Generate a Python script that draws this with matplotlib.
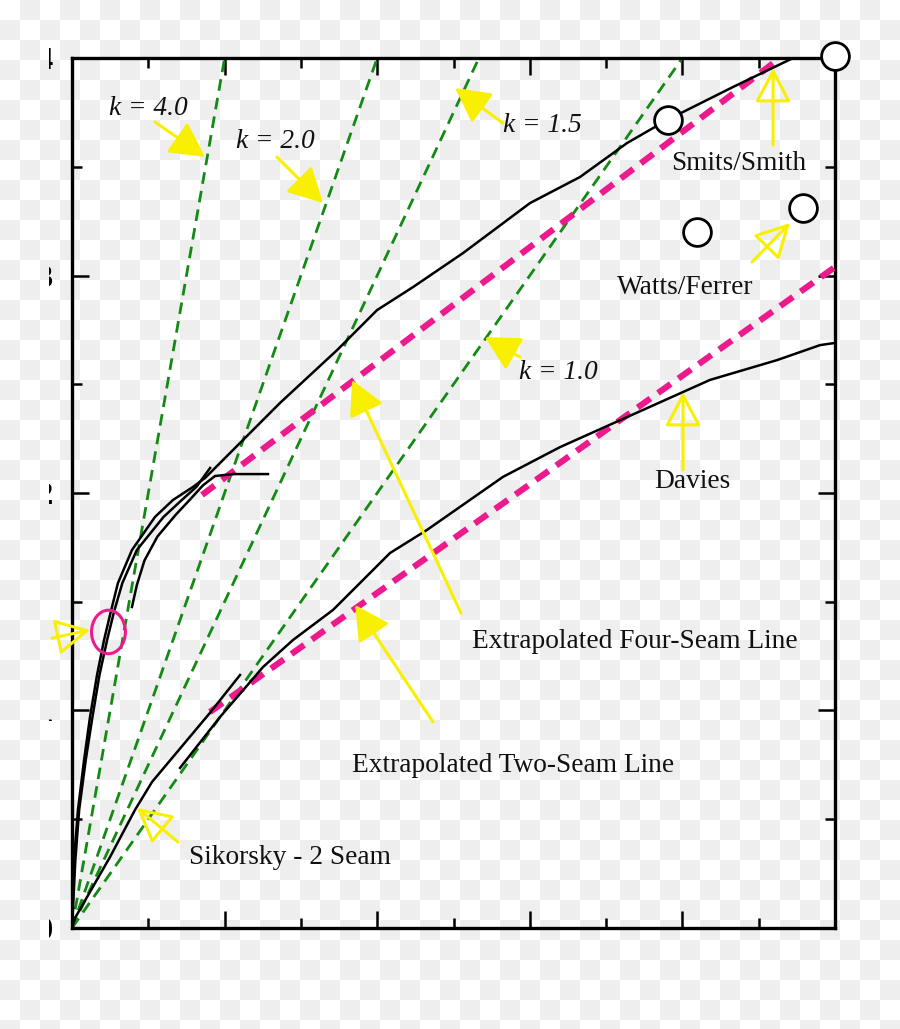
import numpy as np
import matplotlib
matplotlib.use("Agg")
import matplotlib.pyplot as plt
from matplotlib.patches import Ellipse
from matplotlib.transforms import Bbox

plt.rcParams['font.family'] = ['Liberation Serif', 'DejaVu Serif']

# slopes of the reference lines
k_values = [4.0, 2.0, 1.5, 1.0]

# four-seam test curves
fs_a_x = [0, 0.013, 0.039, 0.079, 0.118, 0.164, 0.210, 0.249, 0.301, 0.393, 0.544, 0.662, 0.793, 0.872,
          1.101, 1.363, 1.737, 1.999, 2.235, 2.562, 3.001, 3.329, 3.637, 3.899, 4.332, 4.725]
fs_a_y = [0, 0.313, 0.543, 0.772, 0.970, 1.163, 1.324, 1.439, 1.586, 1.738, 1.890, 1.968, 2.028, 2.069,
          2.230, 2.414, 2.657, 2.841, 2.947, 3.103, 3.333, 3.453, 3.609, 3.715, 3.867, 4.0]
fs_b_x = [0, 0.022, 0.047, 0.090, 0.134, 0.180, 0.230, 0.275, 0.330, 0.425, 0.600, 0.720, 0.815, 0.905]
fs_b_y = [0, 0.313, 0.543, 0.772, 0.970, 1.163, 1.324, 1.453, 1.586, 1.738, 1.890, 1.968, 2.028, 2.115]
fs_c_x = [0.393, 0.425, 0.475, 0.560, 0.680, 0.780, 0.858, 0.937, 1.055, 1.284]
fs_c_y = [1.476, 1.577, 1.690, 1.800, 1.900, 1.975, 2.035, 2.078, 2.087, 2.087]

# Sikorsky two-seam
sik_x = [0, 0.020, 0.249, 0.413, 0.524, 0.904, 1.101]
sik_y = [0, 0.046, 0.326, 0.543, 0.671, 0.989, 1.163]

# Davies two-seam
dav_x = [0.708, 0.970, 1.252, 1.448, 1.710, 2.084, 2.326, 2.824, 3.198, 3.637, 4.181, 4.620, 4.902, 5.0]
dav_y = [0.736, 0.970, 1.200, 1.324, 1.462, 1.724, 1.830, 2.074, 2.211, 2.349, 2.520, 2.611, 2.680, 2.690]

# extrapolated lines
ext4_x = [0.852, 4.640]
ext4_y = [1.991, 4.0]
ext2_x = [0.904, 5.0]
ext2_y = [0.993, 3.039]

# single points
smits_x = [3.906, 5.0]
smits_y = [3.715, 4.009]
watts_x = [4.096, 4.790]
watts_y = [3.200, 3.310]

# annotations: text, text pos, arrow tail, arrow head, italic, hollow head
notes = [
    ('k = 4.0', (0.498, 3.770), (0.544, 3.706), (0.872, 3.545), True, False),
    ('k = 2.0', (1.330, 3.614), (1.343, 3.545), (1.645, 3.333), True, False),
    ('k = 1.5', (3.080, 3.692), (2.824, 3.701), (2.510, 3.862), True, False),
    ('k = 1.0', (3.185, 2.552), (2.936, 2.625), (2.706, 2.717), True, False),
    ('Smits/Smith', (4.371, 3.517), (4.594, 3.600), (4.594, 3.954), False, True),
    ('Watts/Ferrer', (4.017, 2.943), (4.456, 3.062), (4.705, 3.241), False, True),
    ('Davies', (4.063, 2.055), (4.004, 2.106), (4.004, 2.464), False, True),
    ('Extrapolated Four-Seam Line', (3.689, 1.315), (2.549, 1.448), (1.835, 2.520), False, False),
    ('Extrapolated Two-Seam Line', (2.890, 0.745), (2.366, 0.947), (1.855, 1.485), False, False),
    ('Sikorsky - 2 Seam', (1.429, 0.326), (0.695, 0.395), (0.426, 0.552), False, True),
]
circle_arrow = ((-0.131, 1.333), (0.118, 1.370))

yellow = '#f8f000'
green = '#138a13'
pink = '#ec1a8c'

fig = plt.figure(figsize=(9, 10.29), dpi=100)

# checkerboard background (transparent png look)
h, w = 1029, 900
tiles = (np.arange(h)[:, None] // 20 + np.arange(w)[None, :] // 20) % 2
bg = np.where(tiles[..., None] == 1, 0.937, 1.0) * np.ones((h, w, 3))
fig.figimage(bg, xo=0, yo=0, origin='upper', zorder=-10)

ax = fig.add_axes([0.08, 0.0982, 0.8478, 0.8454])
ax.patch.set_visible(False)
ax.set_xlim(0, 5)
ax.set_ylim(0, 4)

for k in k_values:
    ax.axline((0, 0), slope=k, color=green, lw=2.0, dashes=(4.2, 2.6), zorder=2)

ax.plot(ext4_x, ext4_y, color=pink, lw=4.5, dashes=(2.5, 1.5), zorder=3)
ax.plot(ext2_x, ext2_y, color=pink, lw=4.5, dashes=(2.5, 1.5), zorder=3)

for xs, ys in [(fs_a_x, fs_a_y), (fs_b_x, fs_b_y), (fs_c_x, fs_c_y), (sik_x, sik_y), (dav_x, dav_y)]:
    ax.plot(xs, ys, color='black', lw=1.8, zorder=4)

ax.plot(smits_x, smits_y, 'o', ms=20, mfc='white', mec='black', mew=2.0, clip_on=False, zorder=6)
ax.plot(watts_x, watts_y, 'o', ms=20, mfc='white', mec='black', mew=2.0, clip_on=False, zorder=6)

ax.add_patch(Ellipse((0.239, 1.361), 0.222, 0.200, fill=False, ec=pink, lw=2.2, zorder=5))

for txt, tpos, tail, head, ital, hollow in notes:
    ax.text(tpos[0], tpos[1], txt, ha='center', va='center', fontsize=19.7,
            style='italic' if ital else 'normal', color='#111111', zorder=7)
    ax.annotate('', xy=head, xytext=tail, annotation_clip=False,
                arrowprops=dict(arrowstyle='-|>,head_length=0.85,head_width=0.45',
                                mutation_scale=25, shrinkA=0, shrinkB=0, lw=2.2,
                                ec=yellow, fc='none' if hollow else yellow), zorder=6)
ax.annotate('', xy=circle_arrow[1], xytext=circle_arrow[0], annotation_clip=False,
            arrowprops=dict(arrowstyle='-|>,head_length=0.85,head_width=0.45',
                            mutation_scale=25, shrinkA=0, shrinkB=0, lw=2.2,
                            ec=yellow, fc='none'), zorder=6)

for s in ax.spines.values():
    s.set_linewidth(2.4)

ax.set_xticks(np.arange(0, 6, 1))
ax.set_xticks(np.arange(0.5, 5, 1), minor=True)
ax.set_yticks(np.arange(0, 5, 1))
ax.set_yticks(np.arange(0.5, 4, 1), minor=True)
ax.tick_params(which='both', direction='in', top=True, right=True, width=1.8, labelbottom=False)
ax.tick_params(which='major', length=12)
ax.tick_params(which='minor', length=7)
ax.set_yticklabels(['0', '1', '2', '3', '4'], fontsize=22, fontweight='bold')
ax.tick_params(axis='y', pad=14)

# the left part of the tick labels is cut off in the reference
clip = Bbox.from_extents(49, 0, 900, 1029)
for lbl in ax.get_yticklabels():
    lbl.set_clip_on(True)
    lbl.set_clip_box(clip)

fig.savefig('out.png', dpi=100)
